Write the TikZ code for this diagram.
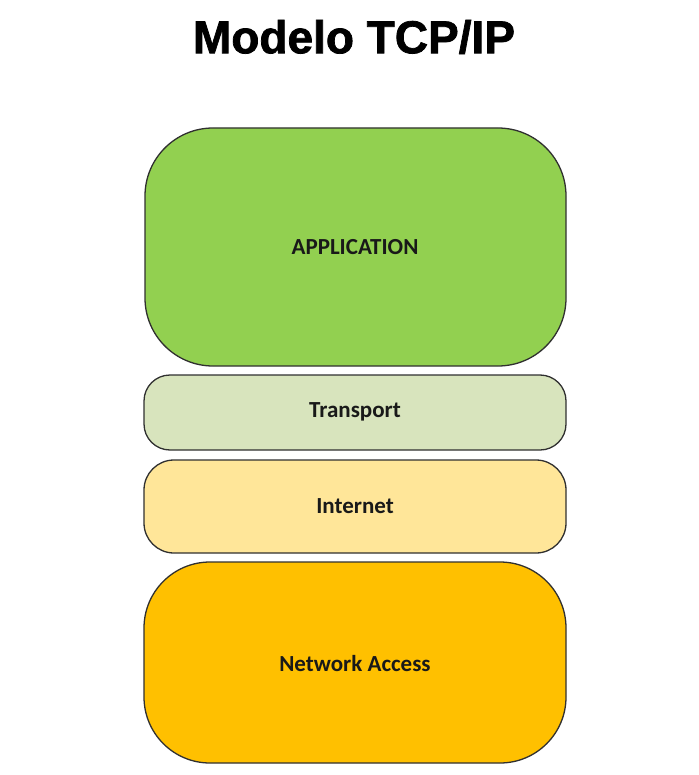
\documentclass[tikz,border=0pt]{standalone}
\usepackage{fontspec}
\setmainfont{Carlito}
\newfontfamily\titlefont[BoldFeatures={FakeBold=1.6}]{Liberation Sans}
\definecolor{appgreen}{HTML}{92D050}
\definecolor{transgreen}{HTML}{D8E4BD}
\definecolor{netyellow}{HTML}{FFE699}
\definecolor{accorange}{HTML}{FFC000}
\definecolor{edgegray}{HTML}{303030}
\begin{document}
\begin{tikzpicture}[x=1pt,y=-1pt,
  layer/.style={draw=edgegray,line width=1.3pt},
  lbl/.style={font=\fontsize{23}{26}\selectfont\bfseries,text=black!90},
]
\useasboundingbox (0,0) rectangle (698,775);
\node[font=\titlefont\fontsize{46}{50}\selectfont\bfseries] (title) at (354,37) {Modelo TCP/IP};
\path[layer,fill=appgreen,rounded corners=68pt] (145,128) rectangle (566,366);
\node[lbl] (app) at (355,247) {APPLICATION};
\path[layer,fill=transgreen,rounded corners=26pt] (144,375) rectangle (566,450);
\node[lbl] (trans) at (355,412) {Transport};
\path[layer,fill=netyellow,rounded corners=30pt] (144,460) rectangle (566,553);
\node[lbl] (inet) at (355,506) {Internet};
\path[layer,fill=accorange,rounded corners=66pt] (144,562) rectangle (566,763);
\node[lbl] (acc) at (355,664) {Network Access};
\end{tikzpicture}
\end{document}
